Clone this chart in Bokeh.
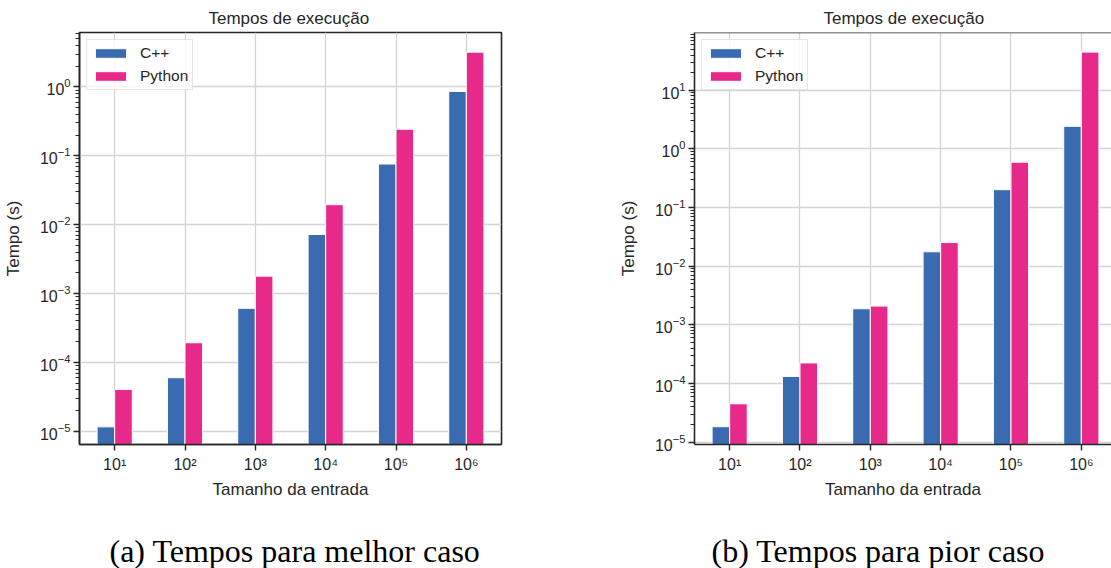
from bokeh.plotting import figure
from bokeh.models import (Range1d, FixedTicker, Legend, LegendItem,
                          Title, Span, ColumnDataSource)
from bokeh.transform import dodge
from bokeh.layouts import row
from bokeh.embed import file_html
from bokeh.resources import INLINE

# ---------------- data ----------------
sizes = ["10¹", "10²", "10³", "10⁴", "10⁵", "10⁶"]
series = ["C++", "Python"]
best_cpp = [1.16e-5, 6.0e-5, 6.1e-4, 7.2e-3, 0.076, 0.86]
best_py = [4.05e-5, 1.93e-4, 1.79e-3, 1.95e-2, 0.243, 3.2]
worst_cpp = [1.83e-5, 1.32e-4, 1.88e-3, 0.0176, 0.202, 2.43]
worst_py = [4.5e-5, 2.24e-4, 2.09e-3, 0.0253, 0.594, 44.8]
decades = [1e-5, 1e-4, 1e-3, 1e-2, 1e-1, 1e0, 1e1]

colors = ["#3a6bb0", "#e7298a"]
TXT = "#262626"
FONT = "Liberation Sans"
H = 568
TOP = 32
FRAME_H = 414


def panel(cpp, py, caption, y_lo, y_hi, x_end, width, mb_left, mb_right, cap_offset, full_outline):
    p = figure(width=width, height=H, x_range=Range1d(-0.5, x_end),
               y_range=Range1d(y_lo, y_hi), y_axis_type="log",
               output_backend="svg", toolbar_location=None,
               min_border_left=mb_left, min_border_right=mb_right,
               min_border_top=TOP, min_border_bottom=H - TOP - FRAME_H)
    p.background_fill_color = "white"
    p.border_fill_color = "white"

    # title
    p.title.text = "Tempos de execução"
    p.title.text_font = FONT
    p.title.text_font_size = "17px"
    p.title.text_font_style = "normal"
    p.title.text_color = TXT
    p.title.align = "left"
    p.title.offset = 129
    p.title.standoff = 6
    p.title.vertical_align = "top"

    xs = list(range(len(sizes)))
    src = ColumnDataSource(dict(x=xs, cpp=cpp, py=py))
    r1 = p.vbar(x=dodge("x", -0.125), top="cpp", bottom=1e-12, width=0.25, source=src,
                fill_color=colors[0], line_color="white", line_width=1)
    r2 = p.vbar(x=dodge("x", 0.125), top="py", bottom=1e-12, width=0.25, source=src,
                fill_color=colors[1], line_color="white", line_width=1)

    # axes
    xax = p.xaxis[0]
    yax = p.yaxis[0]
    xax.ticker = FixedTicker(ticks=xs)
    xax.major_label_overrides = {i: s for i, s in enumerate(sizes)}
    yt = [d for d in decades if y_lo <= d <= y_hi]
    ym = [m * d for d in decades for m in range(2, 10) if y_lo <= m * d <= y_hi]
    yticker = FixedTicker(ticks=yt, minor_ticks=ym)
    yax.ticker = yticker
    p.ygrid.ticker = yticker
    p.xgrid.ticker = FixedTicker(ticks=xs)

    for ax in (xax, yax):
        ax.axis_line_color = TXT
        ax.axis_line_width = 1.6
        ax.major_tick_line_color = TXT
        ax.major_tick_line_width = 1.4
        ax.major_tick_in = 0
        ax.major_tick_out = 6
        ax.minor_tick_line_color = TXT
        ax.minor_tick_line_width = 1.1
        ax.minor_tick_in = 0
        ax.minor_tick_out = 4
        ax.major_label_text_font = FONT
        ax.major_label_text_font_size = "16px"
        ax.major_label_text_color = TXT
        ax.axis_label_text_font = FONT
        ax.axis_label_text_font_size = "17px"
        ax.axis_label_text_font_style = "normal"
        ax.axis_label_text_color = TXT
    xax.axis_label = "Tamanho da entrada"
    yax.axis_label = "Tempo (s)"
    xax.major_label_standoff = 5
    xax.axis_label_standoff = 4
    yax.major_label_standoff = 3
    yax.axis_label_standoff = 14

    for g in (p.xgrid[0], p.ygrid[0]):
        g.grid_line_color = "#d4d4d4"
        g.grid_line_width = 1.3

    if full_outline:
        p.outline_line_color = TXT
        p.outline_line_width = 1.6
        p.outline_line_alpha = 1.0
    else:
        p.outline_line_color = None
        p.add_layout(Span(location=y_hi, dimension="width", line_color=TXT, line_width=1.6))

    legend = Legend(items=[LegendItem(label=series[0], renderers=[r1]),
                           LegendItem(label=series[1], renderers=[r2])],
                    location="top_left", margin=7, padding=4, spacing=5,
                    glyph_width=39, glyph_height=12, label_standoff=10, label_height=18,
                    label_text_font=FONT, label_text_font_size="15.5px",
                    label_text_color=TXT, border_line_color="#cccccc",
                    border_line_width=1, background_fill_alpha=0.8)
    p.add_layout(legend)

    # spacer pushes the sub-figure caption to the bottom of the canvas
    spacer = Title(text=" ", text_font_size="1px", standoff=26)
    p.add_layout(spacer, "below")
    cap = Title(text=caption, align="left", offset=cap_offset, text_font="Liberation Serif",
                text_font_size="32px", text_font_style="normal", text_color="black",
                standoff=0, vertical_align="bottom")
    p.add_layout(cap, "below")
    return p


pa = panel(best_cpp, best_py, "(a) Tempos para melhor caso", 6.43e-6, 6.17,
           5.5, 615, 78, 114, 30, True)
pb = panel(worst_cpp, worst_py, "(b) Tempos para pior caso", 9.1e-6, 96.8,
           5.429, 496, 78, 0, 17, False)

layout = row(pa, pb)
open("out.html", "w").write(file_html(layout, INLINE))
